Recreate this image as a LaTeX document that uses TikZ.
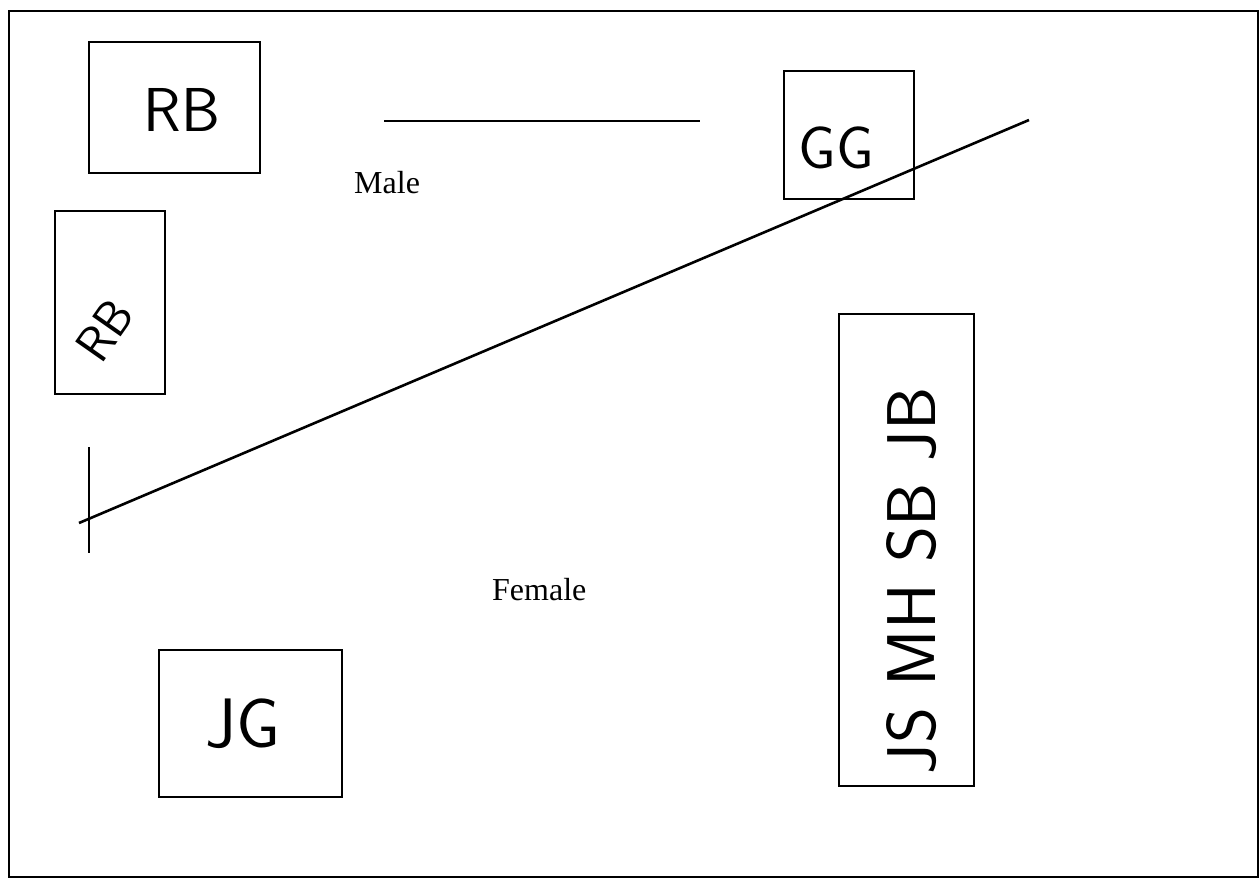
\documentclass[tikz,border=0pt]{standalone}
\usepackage{fontspec}
\setmainfont{Liberation Serif}
\begin{document}
\begin{tikzpicture}[x=1pt,y=-1pt,
  box/.style={draw=black,line width=1.6pt},
  hand/.style={font=\sffamily\fontsize{#1}{#1}\selectfont,inner sep=0pt},
  lbl/.style={font=\fontsize{32}{38}\selectfont,inner sep=0pt,anchor=base west},
  thinline/.style={line width=1.6pt},
  thickline/.style={line width=2.6pt}]
\useasboundingbox (0,0) rectangle (1259,878);
\draw[box] (9,11) rectangle (1258,877);
% boxes
\draw[box] (89,42) rectangle (260,173);
\draw[box] (55,211) rectangle (165,394);
\draw[box] (784,71) rectangle (914,199);
\draw[box] (839,314) rectangle (974,786);
\draw[box] (159,650) rectangle (342,797);
% handwritten initials
\node[hand=62] (rb) at (182,110) {RB};
\node[hand=50,rotate=55] (bb) at (105,330) {RB};
\node[hand=60] (gg) at (836,148) {GG};
\node[hand=70] (jg) at (243,724) {JG};
\node[hand=69,rotate=90] (list) at (912,581) {JS MH SB JB};
% labels
\node[lbl] (male) at (354,193) {Male};
\node[lbl] (female) at (492,600) {Female};
% lines
\coordinate (h1) at (384,121);
\coordinate (h2) at (700,121);
\draw[thinline] (h1) -- (h2);
\coordinate (v1) at (89,447);
\coordinate (v2) at (89,553);
\draw[thinline] (v1) -- (v2);
\coordinate (d1) at (79,523);
\coordinate (d2) at (1029,120);
\draw[thickline] (d1) -- (d2);
\end{tikzpicture}
\end{document}
